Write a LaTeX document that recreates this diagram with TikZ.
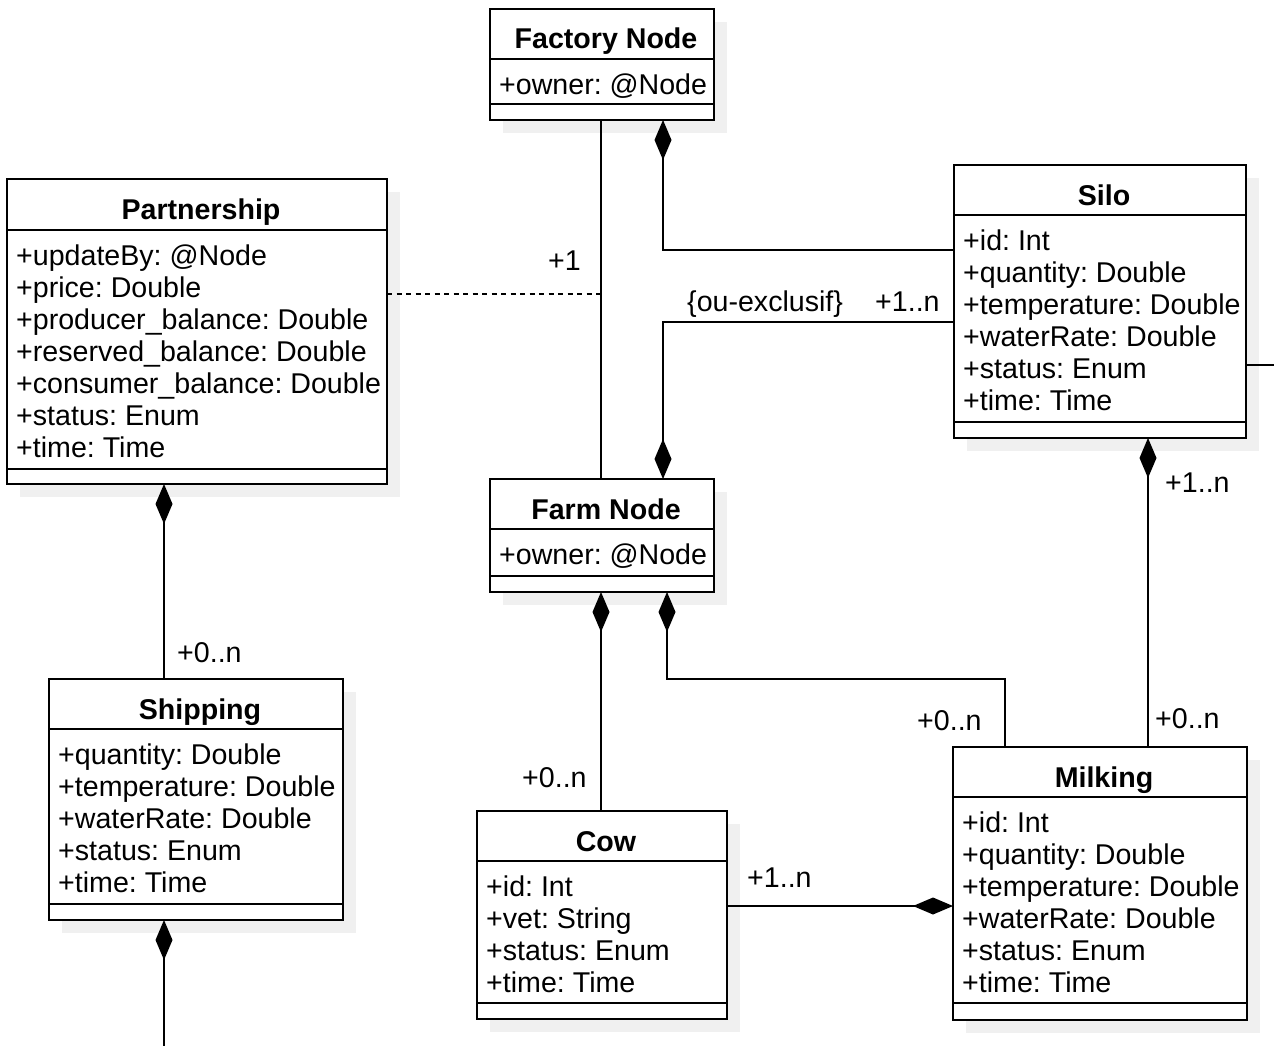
\documentclass[tikz,border=0pt]{standalone}
\usepackage{fontspec}
\setmainfont{Liberation Sans}
\usetikzlibrary{arrows.meta,calc,shadows}
\definecolor{shadowgray}{RGB}{240,240,240}
\frenchspacing

\tikzset{
  classbox/.style={draw=black, line width=1.8pt, fill=white, inner sep=0pt, outer sep=0pt,
    drop shadow={shadow xshift=13pt, shadow yshift=-13pt, fill=shadowgray, opacity=1}},
  divider/.style={line width=1.8pt},
  classtitle/.style={font=\fontsize{28.6}{32}\selectfont\bfseries, inner sep=0pt},
  attrs/.style={font=\fontsize{28.6}{32}\selectfont, align=left, inner sep=0pt},
  mult/.style={font=\fontsize{28.6}{32}\selectfont, inner sep=0pt, anchor=base west},
  assoc/.style={line width=1.8pt},
  assocdash/.style={line width=1.5pt, dash pattern=on 5pt off 4.5pt},
  comp/.style={line width=1.8pt, -{Diamond[length=40pt,width=17pt]}},
}

% #1 name, #2 left, #3 top, #4 width, #5 height,
% #6 header height, #7 attribute block height, #8 title, #9 attributes
\newcommand{\umlclass}[9]{%
  \node[classbox, minimum width=#4, minimum height=#5, anchor=north west] (#1) at (#2,#3) {};
  \draw[divider] ($(#1.north west)+(0,#6)$) -- ($(#1.north east)+(0,#6)$);
  \draw[divider] ($(#1.north west)+(0,#6+#7)$) -- ($(#1.north east)+(0,#6+#7)$);
  \node[classtitle, anchor=base] (#1-title) at ($(#1.north)+(4,40)$) {#8};
  \node[attrs, anchor=north west] (#1-attrs) at ($(#1.north west)+(9,#6+13)$) {\rule{0pt}{22pt}#9};
}

\begin{document}
\begin{tikzpicture}[x=1pt, y=-1pt]
\useasboundingbox (0,0) rectangle (1274,1046);

% classes
\umlclass{factory}{490}{9}{224}{111}{50}{45}{Factory Node}{+owner: @Node}
\umlclass{partnership}{7}{179}{380}{305}{51}{239}{Partnership}{%
  +updateBy: @Node\\+price: Double\\+producer\_balance: Double\\+reserved\_balance: Double\\%
  +consumer\_balance: Double\\+status: Enum\\+time: Time}
\umlclass{silo}{954}{165}{292}{273}{50}{207}{Silo}{%
  +id: Int\\+quantity: Double\\+temperature: Double\\+waterRate: Double\\+status: Enum\\+time: Time}
\umlclass{farm}{490}{479}{224}{113}{50}{47}{Farm Node}{+owner: @Node}
\umlclass{milking}{953}{747}{294}{273}{50}{206}{Milking}{%
  +id: Int\\+quantity: Double\\+temperature: Double\\+waterRate: Double\\+status: Enum\\+time: Time}
\umlclass{cow}{477}{811}{250}{208}{50}{142}{Cow}{%
  +id: Int\\+vet: String\\+status: Enum\\+time: Time}
\umlclass{shipping}{49}{679}{294}{241}{50}{175}{Shipping}{%
  +quantity: Double\\+temperature: Double\\+waterRate: Double\\+status: Enum\\+time: Time}

% routing lanes and rows
\coordinate (laneA) at (601,0);
\coordinate (laneC) at (663,0);
\coordinate (laneF) at (667,0);
\coordinate (laneE) at (1005,0);
\coordinate (laneD) at (1148,0);
\coordinate (laneG) at (164,0);
\coordinate (rowA) at (0,250);
\coordinate (rowDash) at (0,294);
\coordinate (rowB) at (0,322);
\coordinate (rowC) at (0,365);
\coordinate (rowD) at (0,679);
\coordinate (rowE) at (0,906);
\coordinate (siloOut) at (1276,365);
\coordinate (shipOut) at (164,1048);

% connectors
\draw[assoc] (factory.south -| laneA) -- (farm.north -| laneA);
\draw[assocdash] (partnership.east |- rowDash) -- (laneA |- rowDash);
\draw[comp] (silo.west |- rowA) -- (laneC |- rowA) -- (factory.south -| laneC);
\draw[comp] (silo.west |- rowB) -- (laneC |- rowB) -- (farm.north -| laneC);
\draw[assoc] (silo.east |- rowC) -- (siloOut);
\draw[comp] (milking.north -| laneD) -- (silo.south -| laneD);
\draw[comp] (milking.north -| laneE) -- (laneE |- rowD) -- (laneF |- rowD) -- (farm.south -| laneF);
\draw[comp] (cow.north -| laneA) -- (farm.south -| laneA);
\draw[comp] (cow.east |- rowE) -- (milking.west |- rowE);
\draw[comp] (shipping.north -| laneG) -- (partnership.south -| laneG);
\draw[comp] (shipOut) -- (shipping.south -| laneG);

% multiplicities and constraint
\node[mult] (m-factory) at (548,270) {+1};
\node[mult] (m-xor) at (687,311) {\{ou-exclusif\}};
\node[mult] (m-silo-farm) at (875,311) {+1..n};
\node[mult] (m-silo-milk) at (1165,492) {+1..n};
\node[mult] (m-milk-silo) at (1155,728) {+0..n};
\node[mult] (m-milk-farm) at (917,730) {+0..n};
\node[mult] (m-cow) at (522,787) {+0..n};
\node[mult] (m-cow-milk) at (747,887) {+1..n};
\node[mult] (m-ship) at (177,662) {+0..n};
\end{tikzpicture}
\end{document}
